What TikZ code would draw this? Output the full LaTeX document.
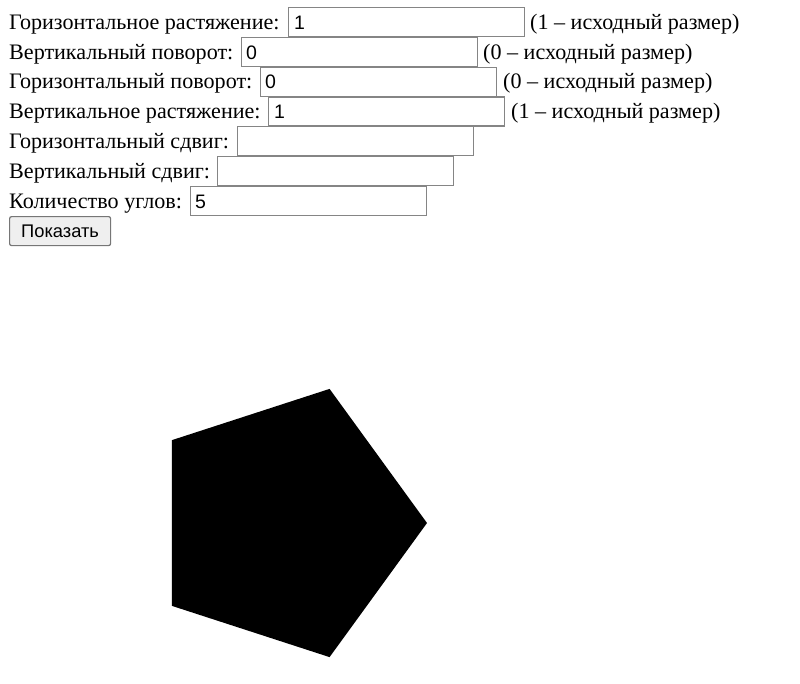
\documentclass[tikz,border=0pt]{standalone}
\usepackage{fontspec}
\usetikzlibrary{calc}
\setmainfont{Liberation Serif}
\newfontfamily\uisans{Liberation Sans}
\definecolor{fieldgray}{RGB}{133,133,133}
\definecolor{btnfill}{RGB}{239,239,239}
\definecolor{btnedge}{RGB}{118,118,118}
\begin{document}
\begin{tikzpicture}[x=1pt,y=-1pt,
  lbl/.style={anchor=base west, inner sep=0pt, font=\fontsize{22.1}{26}\selectfont},
  field/.style={draw=fieldgray, line width=1.2pt, anchor=north west, minimum width=236pt, minimum height=29pt, inner sep=0pt},
  val/.style={anchor=base west, inner sep=0pt, font=\uisans\fontsize{19.5}{23}\selectfont},
  btnbox/.style={draw=btnedge, fill=btnfill, line width=1.2pt, rounded corners=2pt, anchor=north west, minimum width=101pt, minimum height=29pt, inner sep=0pt, font=\uisans\fontsize{18.3}{22}\selectfont}]
\useasboundingbox (0,0) rectangle (800,683);
% row 1
\node[lbl] (l1) at (9,29.3) {Горизонтальное растяжение:};
\node[field] (f1) at (288,7) {};
\node[val] (v1) at (294,29.3) {1};
\node[lbl] (n1) at (530,29.3) {(1 – исходный размер)};
% row 2
\node[lbl] (l2) at (9,59.1) {Вертикальный поворот:};
\node[field] (f2) at (241,36.8) {};
\node[val] (v2) at (246,59.1) {0};
\node[lbl] (n2) at (483,59.1) {(0 – исходный размер)};
% row 3
\node[lbl] (l3) at (9,88.9) {Горизонтальный поворот:};
\node[field] (f3) at (260,66.6) {};
\node[val] (v3) at (265,88.9) {0};
\node[lbl] (n3) at (503,88.9) {(0 – исходный размер)};
% row 4
\node[lbl] (l4) at (9,118.7) {Вертикальное растяжение:};
\node[field] (f4) at (268,96.4) {};
\node[val] (v4) at (274,118.7) {1};
\node[lbl] (n4) at (511,118.7) {(1 – исходный размер)};
% row 5
\node[lbl] (l5) at (9,148.5) {Горизонтальный сдвиг:};
\node[field] (f5) at (237,126.2) {};
% row 6
\node[lbl] (l6) at (9,178.3) {Вертикальный сдвиг:};
\node[field] (f6) at (217,156) {};
% row 7
\node[lbl] (l7) at (9,208.1) {Количество углов:};
\node[field] (f7) at (190,185.8) {};
\node[val] (v7) at (195,208.1) {5};
% button
\node[btnbox] (b) at (9,216) {Показать};
% pentagon
\coordinate (c) at (286,523);
\fill[black] ($(c)+(0:141)$) -- ($(c)+(72:141)$) -- ($(c)+(144:141)$) -- ($(c)+(216:141)$) -- ($(c)+(288:141)$) -- cycle;
\end{tikzpicture}
\end{document}
